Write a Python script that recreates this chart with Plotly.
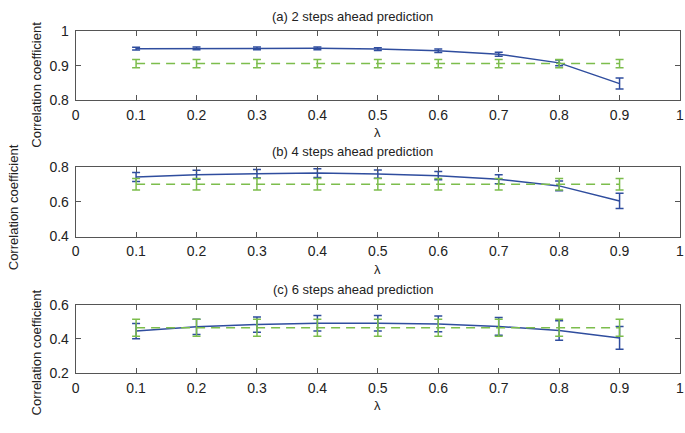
import plotly.graph_objects as go

W, H = 685, 433

lam = [0.1, 0.2, 0.3, 0.4, 0.5, 0.6, 0.7, 0.8, 0.9]

titles = ["(a) 2 steps ahead prediction", "(b) 4 steps ahead prediction", "(c) 6 steps ahead prediction"]

blue_a = [0.949, 0.950, 0.950, 0.950, 0.948, 0.943, 0.933, 0.908, 0.848]
blue_a_err = [0.004, 0.004, 0.004, 0.004, 0.004, 0.005, 0.006, 0.008, 0.016]
green_a = [0.906] * 9
green_a_err = [0.012] * 9

blue_b = [0.745, 0.758, 0.763, 0.767, 0.761, 0.752, 0.732, 0.693, 0.606]
blue_b_err = [0.026, 0.026, 0.025, 0.025, 0.024, 0.024, 0.026, 0.028, 0.044]
green_b = [0.702] * 9
green_b_err = [0.033] * 9

blue_c = [0.446, 0.471, 0.484, 0.492, 0.492, 0.488, 0.473, 0.449, 0.406]
blue_c_err = [0.045, 0.045, 0.045, 0.046, 0.046, 0.046, 0.052, 0.057, 0.067]
green_c = [0.465] * 9
green_c_err = [0.050] * 9

x_ticks = [0, 0.1, 0.2, 0.3, 0.4, 0.5, 0.6, 0.7, 0.8, 0.9, 1]
x_ticktext = ["0", "0.1", "0.2", "0.3", "0.4", "0.5", "0.6", "0.7", "0.8", "0.9", "1"]
y_ranges = [[0.8, 1.0], [0.4, 0.8], [0.2, 0.6]]
y_ticks = [[0.8, 0.9, 1.0], [0.4, 0.6, 0.8], [0.2, 0.4, 0.6]]
y_ticktext = [["0.8", "0.9", "1"], ["0.4", "0.6", "0.8"], ["0.2", "0.4", "0.6"]]

BLUE = "#2f4d9e"
GREEN = "#7cbd4c"
FONT = "Liberation Sans, Arial, sans-serif"

# pixel geometry
x_left, x_right = 72.5, 684.0
boxes = [(24.0, 95.7), (165.5, 237.3), (308.2, 379.0)]
title_y = [9, 149, 292]
ylabel_pos = [(32, 80), (9, 207), (33, 358)]


def py(p):
    return 1 - p / H


def px(p):
    return p / W


fig = go.Figure()
series = [(blue_a, blue_a_err, green_a, green_a_err),
          (blue_b, blue_b_err, green_b, green_b_err),
          (blue_c, blue_c_err, green_c, green_c_err)]

layout = dict(
    width=W, height=H,
    margin=dict(l=0, r=0, t=0, b=0),
    paper_bgcolor="white", plot_bgcolor="white",
    showlegend=False,
    font=dict(family=FONT, size=14, color="#222"),
)
annotations = []

for i, (b, be, g, ge) in enumerate(series):
    n = "" if i == 0 else str(i + 1)
    xa, ya = "x" + n, "y" + n
    fig.add_trace(go.Scatter(
        x=lam, y=b, mode="lines", xaxis=xa, yaxis=ya, cliponaxis=False,
        line=dict(color=BLUE, width=1.5),
        error_y=dict(type="data", array=be, visible=True, width=4, thickness=1.5, color=BLUE),
    ))
    fig.add_trace(go.Scatter(
        x=lam, y=g, mode="lines", xaxis=xa, yaxis=ya, cliponaxis=False,
        line=dict(color=GREEN, width=1.5, dash="9px,6px"),
        error_y=dict(type="data", array=ge, visible=True, width=4, thickness=1.5, color=GREEN),
    ))
    top, bot = boxes[i]
    axis_common = dict(showline=True, linecolor="#555", linewidth=1, mirror="ticks",
                       ticks="inside", ticklen=5, tickcolor="#555", showgrid=False,
                       zeroline=False, ticklabeloverflow="allow",
                       tickfont=dict(size=14, family=FONT, color="#222"))
    layout["xaxis" + n] = dict(domain=[px(x_left), px(x_right)], range=[0, 1],
                               anchor=ya, tickvals=x_ticks, ticktext=x_ticktext,
                               ticklabelstandoff=2, **axis_common)
    layout["yaxis" + n] = dict(domain=[py(bot), py(top)], range=y_ranges[i],
                               anchor=xa, tickvals=y_ticks[i], ticktext=y_ticktext[i],
                               ticklabelstandoff=3, **axis_common)
    annotations.append(dict(text=titles[i], x=px(353), y=py(title_y[i]), xref="paper", yref="paper",
                            xanchor="center", yanchor="middle", showarrow=False,
                            font=dict(size=13, family=FONT, color="#222")))
    annotations.append(dict(text="λ", x=px(378), y=py(bot + 34), xref="paper", yref="paper",
                            xanchor="center", yanchor="middle", showarrow=False,
                            font=dict(size=13, family=FONT, color="#222")))
    lx, ly = ylabel_pos[i]
    annotations.append(dict(text="Correlation coefficient", x=px(lx), y=py(ly), xref="paper", yref="paper",
                            xanchor="center", yanchor="middle", showarrow=False, textangle=-90,
                            font=dict(size=13, family=FONT, color="#222")))

layout["annotations"] = annotations
fig.update_layout(**layout)
fig.write_html("out.html", config={"displayModeBar": False},
               post_script="document.body.style.margin='0';document.body.style.overflow='hidden';")
